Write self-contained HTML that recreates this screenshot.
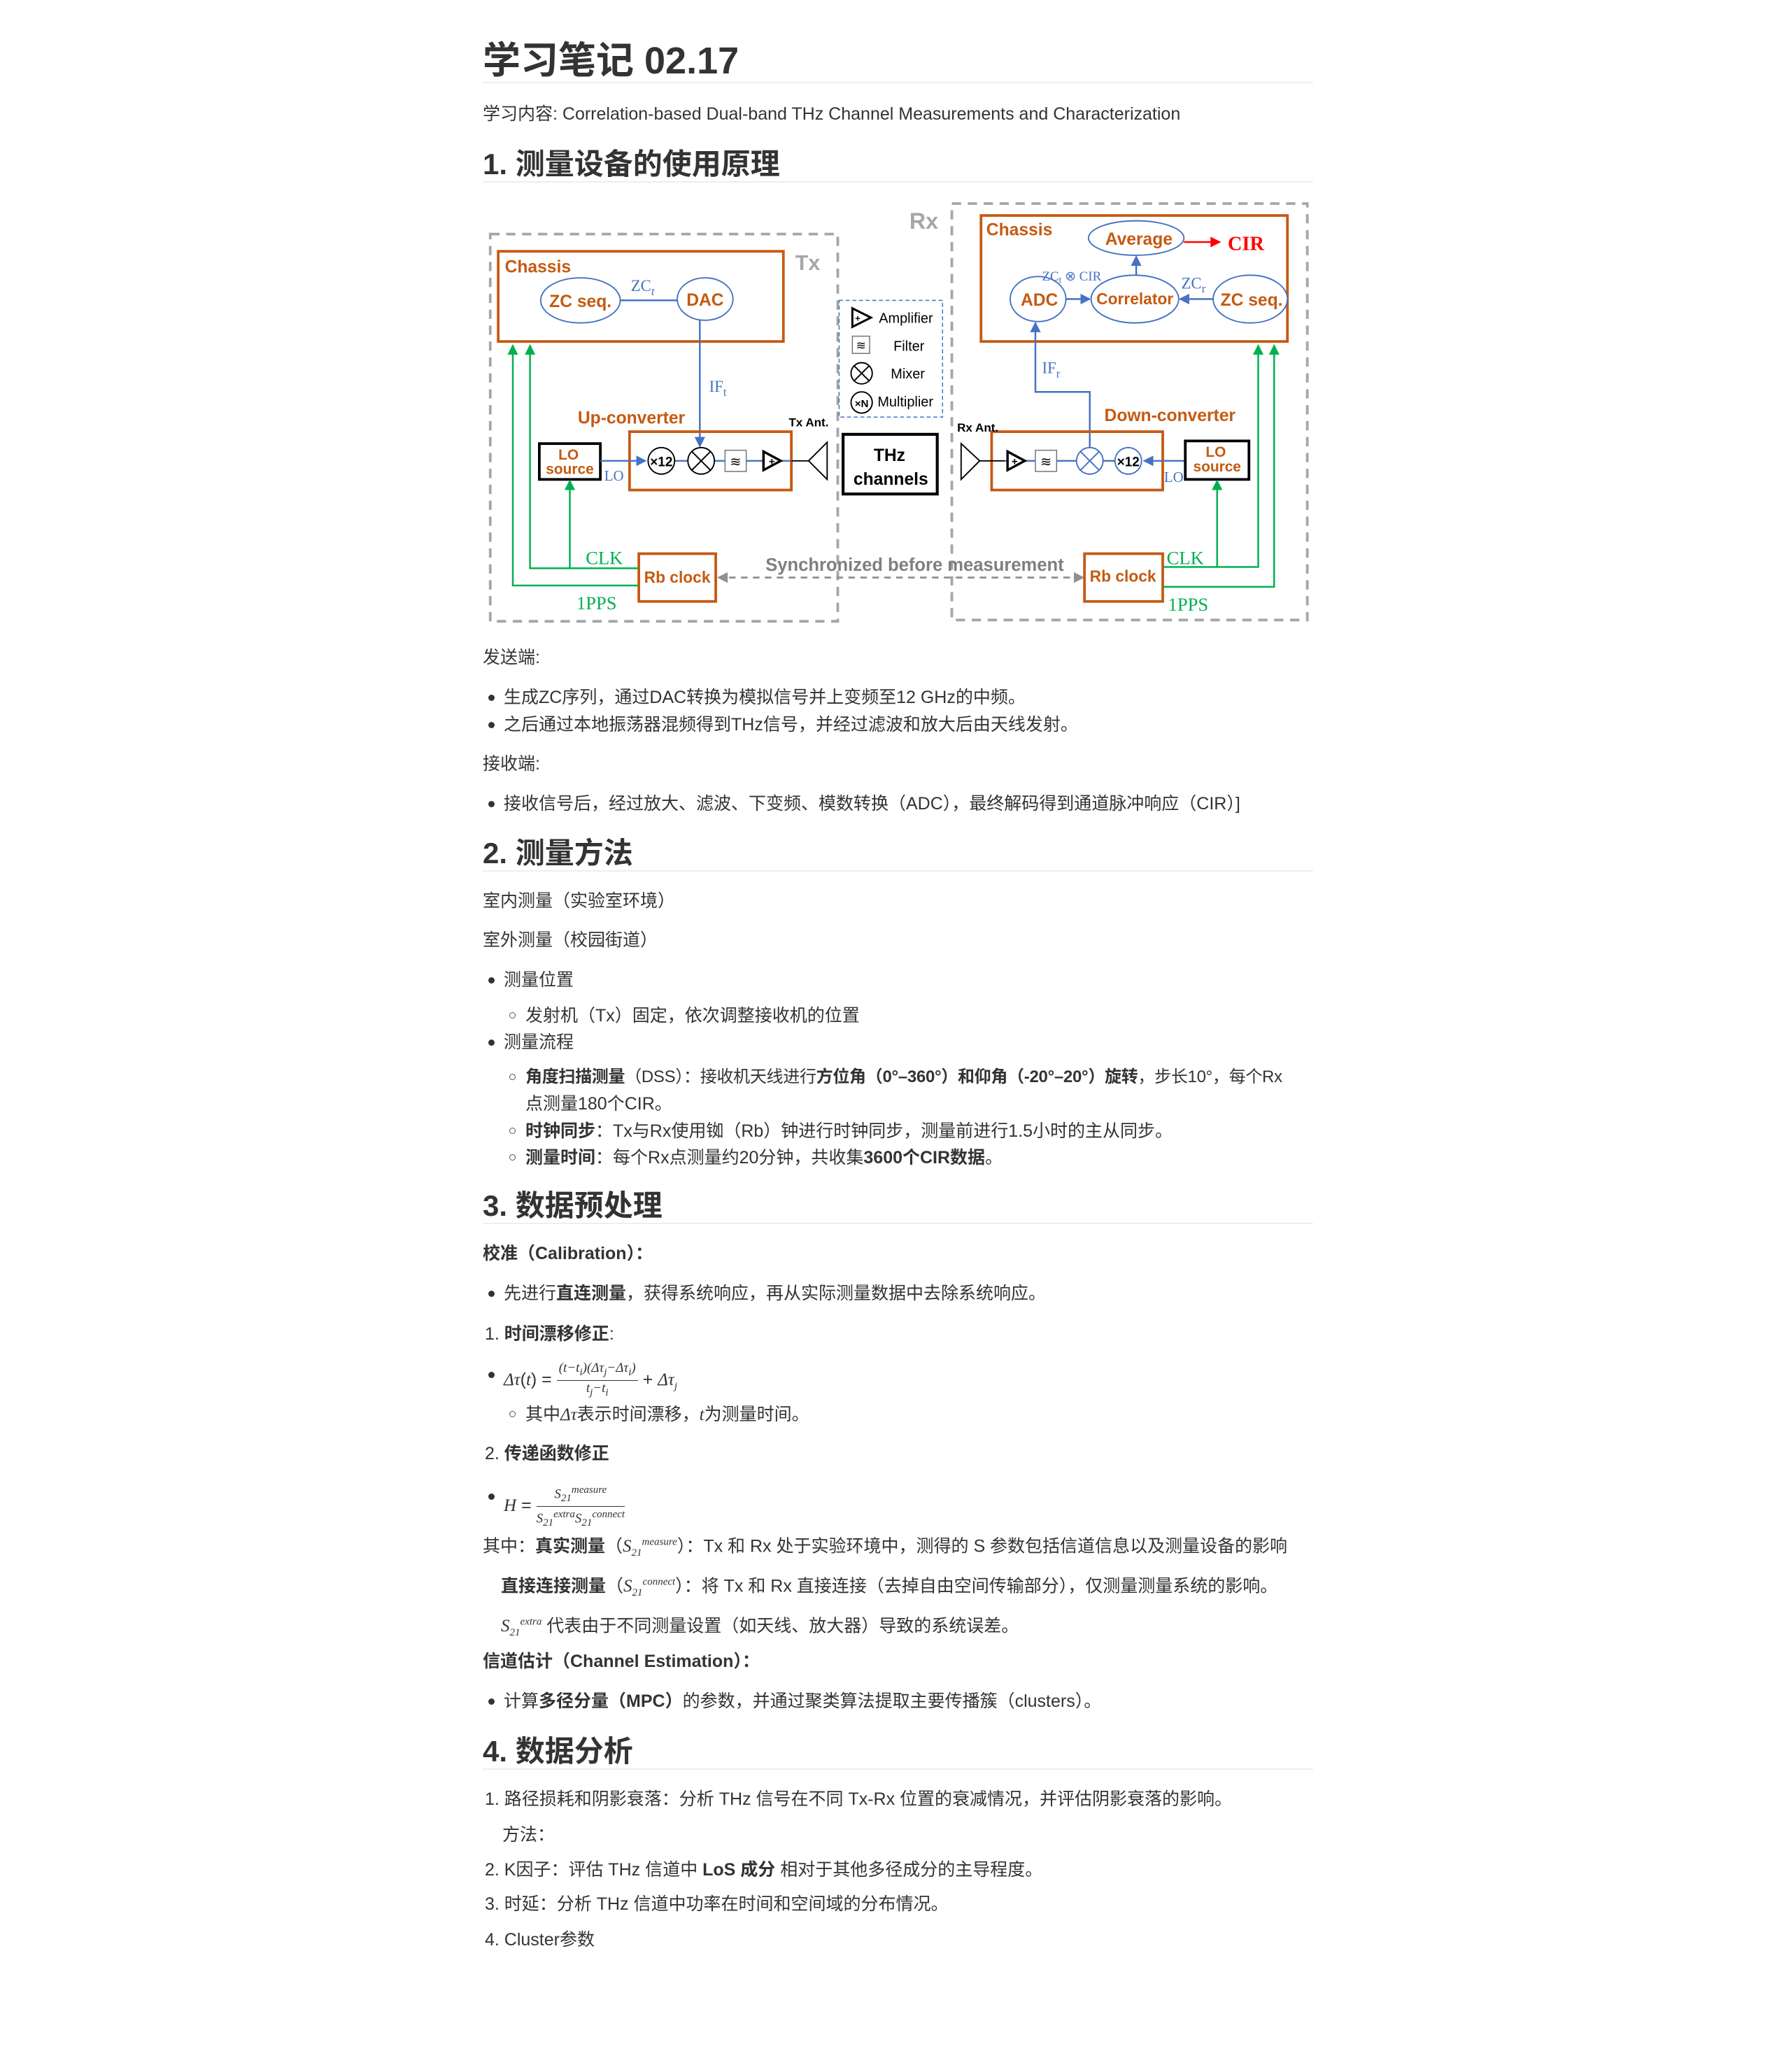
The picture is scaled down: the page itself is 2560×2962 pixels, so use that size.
<!DOCTYPE html>
<html><head><meta charset="utf-8">
<style>
html,body{margin:0;padding:0;background:#fff;}
body{width:2560px;height:2962px;position:relative;overflow:hidden;font-family:"Liberation Sans","Noto Sans CJK SC",sans-serif;color:#333;}
.t{position:absolute;left:690px;white-space:nowrap;font-size:25px;line-height:40px;}
.h1{font-size:54px;font-weight:bold;line-height:70px;color:#333;}
.h2{font-size:42px;font-weight:bold;line-height:60px;color:#333;}
.rule{position:absolute;left:690px;width:1187px;height:2px;background:#eee;}
.b{font-weight:bold;}
.dot{position:absolute;left:698px;width:9px;height:9px;border-radius:50%;background:#333;}
.circ{position:absolute;left:728px;width:7px;height:7px;border-radius:50%;border:1.5px solid #555;}
.m{font-family:"Liberation Serif",serif;font-style:italic;}
.fr{display:inline-block;vertical-align:middle;text-align:center;font-family:"Liberation Serif",serif;font-style:italic;font-size:19px;line-height:22px;}
.fr .n{border-bottom:1.5px solid #333;padding:0 3px;}
sub,sup{font-size:15px;}
</style></head><body>

<div class="t h1" style="top:52px;">学习笔记 02.17</div>
<div class="rule" style="top:117px;"></div>
<div class="t" style="top:143px;">学习内容: Correlation-based Dual-band THz Channel Measurements and Characterization</div>
<div class="t h2" style="top:205px;">1. 测量设备的使用原理</div>
<div class="rule" style="top:259px;"></div>

<svg style="position:absolute;left:678px;top:272px;" width="1213.4" height="635.2" viewBox="360 145 640 335" font-family="Liberation Sans, sans-serif">
<defs>
<marker id="ab" markerWidth="8" markerHeight="8" refX="7" refY="4" orient="auto" markerUnits="userSpaceOnUse"><path d="M0,0 L8,4 L0,8 z" fill="#4472C4"/></marker>
<marker id="ag" markerWidth="8" markerHeight="8" refX="7" refY="4" orient="auto" markerUnits="userSpaceOnUse"><path d="M0,0 L8,4 L0,8 z" fill="#00B050"/></marker>
<marker id="ar" markerWidth="8" markerHeight="8" refX="7" refY="4" orient="auto" markerUnits="userSpaceOnUse"><path d="M0,0 L8,4 L0,8 z" fill="#FF0000"/></marker>
</defs>
<g fill="none" stroke="#A6A6A6" stroke-width="2" stroke-dasharray="7,5">
<rect x="372" y="178" width="262" height="292"/>
<rect x="720" y="155" width="268" height="314"/>
</g>
<text x="688" y="174" font-size="17" font-weight="bold" fill="#A6A6A6">Rx</text>
<text x="602" y="205" font-size="16" font-weight="bold" fill="#A6A6A6">Tx</text>

<rect x="378" y="191" width="215" height="68" fill="none" stroke="#C55A11" stroke-width="2"/>
<text x="383" y="207" font-size="13" font-weight="bold" fill="#C55A11">Chassis</text>
<line x1="470" y1="228" x2="513" y2="228" stroke="#4472C4" stroke-width="1.3"/>
<ellipse cx="440" cy="228" rx="30" ry="17" fill="#fff" stroke="#4472C4" stroke-width="1"/>
<text x="440" y="233" font-size="13" font-weight="bold" fill="#C55A11" text-anchor="middle">ZC seq.</text>
<ellipse cx="534" cy="227" rx="21" ry="16" fill="#fff" stroke="#4472C4" stroke-width="1"/>
<text x="534" y="232" font-size="13" font-weight="bold" fill="#C55A11" text-anchor="middle">DAC</text>
<text x="478" y="221" font-size="12" fill="#4472C4" font-family="Liberation Serif, serif">ZC<tspan font-style="italic" font-size="9" dy="3">t</tspan></text>
<line x1="530" y1="243" x2="530" y2="338" stroke="#4472C4" stroke-width="1.3" marker-end="url(#ab)"/>
<text x="537" y="297" font-size="12" fill="#4472C4" font-family="Liberation Serif, serif">IF<tspan font-size="9" dy="3">t</tspan></text>

<text x="438" y="321" font-size="13" font-weight="bold" fill="#C55A11">Up-converter</text>
<rect x="477" y="327" width="122" height="44" fill="none" stroke="#C55A11" stroke-width="2"/>
<rect x="409" y="336" width="46" height="27" fill="#fff" stroke="#000" stroke-width="2"/>
<text x="431" y="348" font-size="11" font-weight="bold" fill="#C55A11" text-anchor="middle">LO</text>
<text x="432" y="359" font-size="11" font-weight="bold" fill="#C55A11" text-anchor="middle">source</text>
<text x="458" y="364" font-size="11" fill="#4472C4" font-family="Liberation Serif, serif">LO</text>
<line x1="455" y1="349" x2="489" y2="349" stroke="#4472C4" stroke-width="1.3" marker-end="url(#ab)"/>
<line x1="511" y1="349" x2="599" y2="349" stroke="#4472C4" stroke-width="1.3"/>
<circle cx="501" cy="349" r="10" fill="#fff" stroke="#000"/>
<text x="501" y="353" font-size="10" font-weight="bold" text-anchor="middle">×12</text>
<circle cx="531" cy="349" r="10" fill="#fff" stroke="#000"/>
<path d="M524,342 L538,356 M538,342 L524,356" stroke="#000"/>
<rect x="549" y="341" width="16" height="16" fill="#fff" stroke="#777" stroke-width="0.8"/>
<text x="557" y="353" font-size="10" text-anchor="middle">≋</text>
<path d="M578,342 L578,356 L591,349 Z" fill="#fff" stroke="#000" stroke-width="1.8"/>
<text x="582" y="352" font-size="8" font-weight="bold">+</text>
<line x1="599" y1="349" x2="612" y2="349" stroke="#000"/>
<path d="M626,335 L612,349 L626,363 Z" fill="none" stroke="#000"/>
<text x="597" y="323" font-size="9" font-weight="bold">Tx Ant.</text>

<rect x="635" y="228" width="78" height="88" fill="none" stroke="#4472C4" stroke-width="0.8" stroke-dasharray="3,2"/>
<path d="M645,234 L645,248 L659,241 Z" fill="#fff" stroke="#000" stroke-width="1.6"/>
<text x="647" y="244" font-size="7" font-weight="bold">+</text>
<text x="665" y="245" font-size="10.5">Amplifier</text>
<rect x="645" y="255" width="13" height="13" fill="#fff" stroke="#777" stroke-width="0.8"/>
<text x="651.5" y="265" font-size="9" text-anchor="middle">≋</text>
<text x="676" y="266" font-size="10.5">Filter</text>
<circle cx="652" cy="283" r="8" fill="#fff" stroke="#000"/>
<path d="M646,277 L658,289 M658,277 L646,289" stroke="#000"/>
<text x="674" y="287" font-size="10.5">Mixer</text>
<circle cx="652" cy="305" r="8" fill="#fff" stroke="#000"/>
<text x="652" y="308.5" font-size="8" font-weight="bold" text-anchor="middle">×N</text>
<text x="664" y="308" font-size="10.5">Multiplier</text>

<rect x="638" y="329" width="71" height="45" fill="#fff" stroke="#000" stroke-width="2.2"/>
<text x="673" y="349" font-size="13" font-weight="bold" text-anchor="middle">THz</text>
<text x="674" y="367" font-size="13" font-weight="bold" text-anchor="middle">channels</text>

<rect x="484" y="419" width="58" height="36" fill="#fff" stroke="#C55A11" stroke-width="2"/>
<text x="513" y="441" font-size="12" font-weight="bold" fill="#C55A11" text-anchor="middle">Rb clock</text>
<g fill="none" stroke="#00B050" stroke-width="1.3">
<path d="M484,430 L402,430 L402,262" marker-end="url(#ag)"/>
<path d="M432,430 L432,364" marker-end="url(#ag)"/>
<path d="M484,443 L389,443 L389,262" marker-end="url(#ag)"/>
</g>
<text x="444" y="427" font-size="14" fill="#00B050" font-family="Liberation Serif, serif">CLK</text>
<text x="437" y="461" font-size="14" fill="#00B050" font-family="Liberation Serif, serif">1PPS</text>

<line x1="552" y1="437" x2="812" y2="437" stroke="#909090" stroke-width="1.5" stroke-dasharray="5,4"/>
<path d="M543,437 L551,433 L551,441 Z" fill="#909090"/>
<path d="M820,437 L812,433 L812,441 Z" fill="#909090"/>
<text x="692" y="432" font-size="13.5" font-weight="bold" fill="#7F7F7F" text-anchor="middle">Synchronized before measurement</text>

<rect x="742" y="164" width="231" height="95" fill="none" stroke="#C55A11" stroke-width="2"/>
<text x="746" y="179" font-size="13" font-weight="bold" fill="#C55A11">Chassis</text>
<ellipse cx="859" cy="181" rx="36" ry="13" fill="#fff" stroke="#4472C4"/>
<text x="861" y="186" font-size="13" font-weight="bold" fill="#C55A11" text-anchor="middle">Average</text>
<line x1="895" y1="184" x2="922" y2="184" stroke="#FF0000" stroke-width="1.3" marker-end="url(#ar)"/>
<text x="928" y="190" font-size="15" font-weight="bold" fill="#FF0000" font-family="Liberation Serif, serif">CIR</text>
<line x1="806" y1="227" x2="824" y2="227" stroke="#4472C4" stroke-width="1.3" marker-end="url(#ab)"/>
<line x1="917" y1="227" x2="892" y2="227" stroke="#4472C4" stroke-width="1.3" marker-end="url(#ab)"/>
<line x1="859" y1="209" x2="859" y2="195" stroke="#4472C4" stroke-width="1.3" marker-end="url(#ab)"/>
<ellipse cx="785" cy="227" rx="21" ry="17" fill="#fff" stroke="#4472C4"/>
<text x="786" y="232" font-size="13" font-weight="bold" fill="#C55A11" text-anchor="middle">ADC</text>
<ellipse cx="858" cy="227" rx="33" ry="18" fill="#fff" stroke="#4472C4"/>
<text x="858" y="231" font-size="12" font-weight="bold" fill="#C55A11" text-anchor="middle">Correlator</text>
<ellipse cx="945" cy="227" rx="28" ry="18" fill="#fff" stroke="#4472C4"/>
<text x="946" y="232" font-size="13" font-weight="bold" fill="#C55A11" text-anchor="middle">ZC seq.</text>
<text x="788" y="213" font-size="10" fill="#4472C4" font-family="Liberation Serif, serif">ZC<tspan font-size="7" dy="2">t</tspan><tspan dy="-2"> ⊗ CIR</tspan></text>
<text x="893" y="219" font-size="12" fill="#4472C4" font-family="Liberation Serif, serif">ZC<tspan font-size="9" dy="3">r</tspan></text>
<path d="M824,339 L824,297 L783,297 L783,245" fill="none" stroke="#4472C4" stroke-width="1.3" marker-end="url(#ab)"/>
<text x="788" y="283" font-size="12" fill="#4472C4" font-family="Liberation Serif, serif">IF<tspan font-size="9" dy="3">r</tspan></text>

<text x="835" y="319" font-size="13" font-weight="bold" fill="#C55A11">Down-converter</text>
<rect x="750" y="327" width="129" height="44" fill="none" stroke="#C55A11" stroke-width="2"/>
<text x="724" y="327" font-size="9" font-weight="bold">Rx Ant.</text>
<path d="M727,336 L741,349 L727,363 Z" fill="none" stroke="#000"/>
<line x1="741" y1="349" x2="760" y2="349" stroke="#000"/>
<line x1="760" y1="349" x2="843" y2="349" stroke="#4472C4" stroke-width="1.3"/>
<path d="M762,342 L762,356 L775,349 Z" fill="#fff" stroke="#000" stroke-width="1.8"/>
<text x="765" y="352" font-size="8" font-weight="bold">+</text>
<rect x="783" y="341" width="16" height="16" fill="#fff" stroke="#777" stroke-width="0.8"/>
<text x="791" y="353" font-size="10" text-anchor="middle">≋</text>
<circle cx="824" cy="349" r="10" fill="#fff" stroke="#4472C4"/>
<path d="M817,342 L831,356 M831,342 L817,356" stroke="#4472C4"/>
<circle cx="853" cy="349" r="10" fill="#fff" stroke="#4472C4"/>
<text x="853" y="353" font-size="10" font-weight="bold" text-anchor="middle">×12</text>
<line x1="896" y1="349" x2="865" y2="349" stroke="#4472C4" stroke-width="1.3" marker-end="url(#ab)"/>
<rect x="896" y="334" width="48" height="29" fill="#fff" stroke="#000" stroke-width="2"/>
<text x="919" y="346" font-size="11" font-weight="bold" fill="#C55A11" text-anchor="middle">LO</text>
<text x="920" y="357" font-size="11" font-weight="bold" fill="#C55A11" text-anchor="middle">source</text>
<text x="880" y="365" font-size="11" fill="#4472C4" font-family="Liberation Serif, serif">LO</text>

<rect x="820" y="419" width="59" height="36" fill="#fff" stroke="#C55A11" stroke-width="2"/>
<text x="849" y="440" font-size="12" font-weight="bold" fill="#C55A11" text-anchor="middle">Rb clock</text>
<g fill="none" stroke="#00B050" stroke-width="1.3">
<path d="M879,429 L951,429 L951,262" marker-end="url(#ag)"/>
<path d="M920,429 L920,364" marker-end="url(#ag)"/>
<path d="M879,444 L963,444 L963,262" marker-end="url(#ag)"/>
</g>
<text x="882" y="427" font-size="14" fill="#00B050" font-family="Liberation Serif, serif">CLK</text>
<text x="883" y="462" font-size="14" fill="#00B050" font-family="Liberation Serif, serif">1PPS</text>
</svg>

<div class="t" style="top:920px;">发送端:</div>
<div class="dot" style="top:993px;"></div><div class="t" style="left:720px;top:977px;">生成ZC序列，通过DAC转换为模拟信号并上变频至12 GHz的中频。</div>
<div class="dot" style="top:1032px;"></div><div class="t" style="left:720px;top:1016px;">之后通过本地振荡器混频得到THz信号，并经过滤波和放大后由天线发射。</div>
<div class="t" style="top:1072px;">接收端:</div>
<div class="dot" style="top:1145px;"></div><div class="t" style="left:720px;top:1129px;">接收信号后，经过放大、滤波、下变频、模数转换（ADC），最终解码得到通道脉冲响应（CIR）]</div>

<div class="t h2" style="top:1190px;">2. 测量方法</div>
<div class="rule" style="top:1244px;"></div>
<div class="t" style="top:1268px;">室内测量（实验室环境）</div>
<div class="t" style="top:1324px;">室外测量（校园街道）</div>
<div class="dot" style="top:1397px;"></div><div class="t" style="left:720px;top:1381px;">测量位置</div>
<div class="circ" style="top:1447px;"></div><div class="t" style="left:751px;top:1432px;">发射机（Tx）固定，依次调整接收机的位置</div>
<div class="dot" style="top:1486px;"></div><div class="t" style="left:720px;top:1470px;">测量流程</div>
<div class="circ" style="top:1535px;"></div><div class="t" style="left:751px;top:1520px;font-size:24px;letter-spacing:-0.3px;"><span class="b">角度扫描测量</span>（DSS）：接收机天线进行<span class="b">方位角（0°–360°）和仰角（-20°–20°）旋转</span>，步长10°，每个Rx</div>
<div class="t" style="left:751px;top:1558px;">点测量180个CIR。</div>
<div class="circ" style="top:1612px;"></div><div class="t" style="left:751px;top:1597px;"><span class="b">时钟同步</span>：Tx与Rx使用铷（Rb）钟进行时钟同步，测量前进行1.5小时的主从同步。</div>
<div class="circ" style="top:1650px;"></div><div class="t" style="left:751px;top:1635px;"><span class="b">测量时间</span>：每个Rx点测量约20分钟，共收集<span class="b">3600个CIR数据</span>。</div>

<div class="t h2" style="top:1694px;">3. 数据预处理</div>
<div class="rule" style="top:1748px;"></div>
<div class="t b" style="top:1772px;">校准（Calibration）：</div>
<div class="dot" style="top:1845px;"></div><div class="t" style="left:720px;top:1829px;">先进行<span class="b">直连测量</span>，获得系统响应，再从实际测量数据中去除系统响应。</div>
<div class="t" style="left:693px;top:1887px;">1. <span class="b">时间漂移修正</span>:</div>
<div class="dot" style="top:1961px;"></div>
<div class="t" style="left:720px;top:1945px;line-height:40px;"><span class="m">Δτ</span>(<span class="m">t</span>) = <span class="fr"><div class="n">(t−t<sub>i</sub>)(Δτ<sub>j</sub>−Δτ<sub>i</sub>)</div><div>t<sub>j</sub>−t<sub>i</sub></div></span> + <span class="m">Δτ<sub>j</sub></span></div>
<div class="circ" style="top:2017px;"></div><div class="t" style="left:751px;top:2002px;">其中<span class="m">Δτ</span>表示时间漂移，<span class="m">t</span>为测量时间。</div>
<div class="t" style="left:693px;top:2058px;">2. <span class="b">传递函数修正</span></div>
<div class="dot" style="top:2135px;"></div>
<div class="t" style="left:720px;top:2119px;"><span class="m">H</span> = <span class="fr"><div class="n">S<sub>21</sub><sup>measure</sup></div><div>S<sub>21</sub><sup>extra</sup>S<sub>21</sub><sup>connect</sup></div></span></div>
<div class="t" style="top:2185px;">其中：<span class="b">真实测量</span>（<span class="m">S<sub>21</sub><sup>measure</sup></span>）：Tx 和 Rx 处于实验环境中，测得的 S 参数包括信道信息以及测量设备的影响</div>
<div class="t" style="left:716px;top:2242px;"><span class="b">直接连接测量</span>（<span class="m">S<sub>21</sub><sup>connect</sup></span>）：将 Tx 和 Rx 直接连接（去掉自由空间传输部分），仅测量测量系统的影响。</div>
<div class="t" style="left:716px;top:2299px;"><span class="m">S<sub>21</sub><sup>extra</sup></span> 代表由于不同测量设置（如天线、放大器）导致的系统误差。</div>
<div class="t b" style="top:2355px;">信道估计（Channel Estimation）：</div>
<div class="dot" style="top:2428px;"></div><div class="t" style="left:720px;top:2412px;">计算<span class="b">多径分量（MPC）</span>的参数，并通过聚类算法提取主要传播簇（clusters）。</div>

<div class="t h2" style="top:2474px;">4. 数据分析</div>
<div class="rule" style="top:2528px;"></div>
<div class="t" style="left:693px;top:2552px;">1. 路径损耗和阴影衰落：分析 THz 信号在不同 Tx-Rx 位置的衰减情况，并评估阴影衰落的影响。</div>
<div class="t" style="left:718px;top:2603px;">方法：</div>
<div class="t" style="left:693px;top:2653px;">2. K因子：评估 THz 信道中 <span class="b">LoS 成分</span> 相对于其他多径成分的主导程度。</div>
<div class="t" style="left:693px;top:2702px;">3. 时延：分析 THz 信道中功率在时间和空间域的分布情况。</div>
<div class="t" style="left:693px;top:2753px;">4. Cluster参数</div>
</body></html>
